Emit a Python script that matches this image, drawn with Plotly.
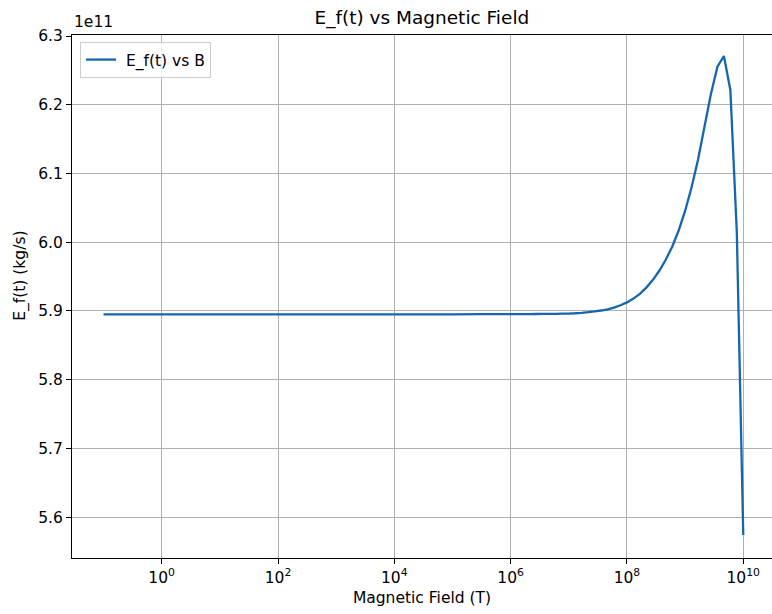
import plotly.graph_objects as go

# Magnetic field samples (log10 of B in tesla) and the resulting E_f(t) in units of 1e11 kg/s
log_b = [-1.0, 0.0, 1.0, 2.0, 3.0, 4.0, 5.0, 5.5, 6.0, 6.111, 6.222, 6.333, 6.444,
         6.556, 6.667, 6.778, 6.889, 7.0, 7.111, 7.222, 7.333, 7.444, 7.556, 7.667,
         7.778, 7.889, 8.0, 8.111, 8.222, 8.333, 8.444, 8.556, 8.667, 8.778, 8.889,
         9.0, 9.111, 9.222, 9.333, 9.444, 9.556, 9.667, 9.778, 9.889, 10.0]
ef_e11 = [5.8952, 5.8952, 5.8952, 5.8952, 5.8952, 5.8952, 5.8952, 5.8953, 5.8954,
          5.8954, 5.8955, 5.8955, 5.8956, 5.8957, 5.8958, 5.8959, 5.8961, 5.8963,
          5.8967, 5.8973, 5.8982, 5.8993, 5.9007, 5.9025, 5.9050, 5.9083, 5.9125,
          5.9180, 5.9250, 5.9340, 5.9450, 5.9585, 5.9745, 5.9935, 6.0170, 6.0455,
          6.0800, 6.1200, 6.1680, 6.2156, 6.2553, 6.2709, 6.2215, 6.0150, 5.5742]

b_field = [10 ** v for v in log_b]
ef = [v * 1e11 for v in ef_e11]

y_ticks = [5.6, 5.7, 5.8, 5.9, 6.0, 6.1, 6.2, 6.3]
x_tick_exps = [0, 2, 4, 6, 8, 10]

FONT = "DejaVu Sans"
fig = go.Figure()
fig.add_trace(go.Scatter(
    x=b_field, y=ef, mode="lines", name="\u00a0E_f(t) vs B",
    line=dict(color="#1666ae", width=2.3, simplify=False),
))

fig.update_layout(
    width=772, height=614,
    margin=dict(l=72, r=0, t=35, b=56),
    paper_bgcolor="white", plot_bgcolor="white",
    font=dict(family=FONT, size=15.5, color="black"),
    title=dict(text="E_f(t) vs Magnetic Field", x=0.5465, xanchor="center",
               y=0.972, yanchor="middle", font=dict(size=18.5, family=FONT)),
    showlegend=True,
    legend=dict(x=0.0114, y=0.9866, xanchor="left", yanchor="top",
                bgcolor="rgba(255,255,255,0.8)", bordercolor="#cccccc",
                borderwidth=1, itemwidth=30, font=dict(size=15.5, family=FONT)),
)

fig.update_xaxes(
    type="log", range=[-1.542, 10.494],
    tickvals=[10 ** e for e in x_tick_exps],
    ticktext=[f"10<sup>{e}</sup>" for e in x_tick_exps],
    ticks="outside", ticklen=5, tickcolor="black", tickwidth=1.2,
    showline=True, linecolor="black", linewidth=1.2, mirror=True,
    showgrid=True, gridcolor="#b0b0b0", gridwidth=1,
    zeroline=False,
    title=dict(text="Magnetic Field (T)", standoff=6, font=dict(size=15.5, family=FONT)),
)

fig.update_yaxes(
    range=[5.5407e11, 6.30145e11],
    tickvals=[v * 1e11 for v in y_ticks],
    ticktext=[f"{v:.1f}" for v in y_ticks],
    ticks="outside", ticklen=5, tickcolor="black", tickwidth=1.2,
    showline=True, linecolor="black", linewidth=1.2, mirror=False,
    showgrid=True, gridcolor="#b0b0b0", gridwidth=1,
    zeroline=False,
)

# Axis label and offset text for the y axis
fig.add_annotation(text="E_f(t) (kg/s)", xref="paper", yref="paper",
                   x=-0.074, y=0.54, xanchor="center", yanchor="middle",
                   textangle=-90, showarrow=False, font=dict(size=15.5, family=FONT))
fig.add_annotation(text="1e11", xref="paper", yref="paper",
                   x=0.0, y=1.0, xanchor="left", yanchor="bottom", yshift=2,
                   showarrow=False, font=dict(size=15.5, family=FONT))

fig.write_html("out.html")
